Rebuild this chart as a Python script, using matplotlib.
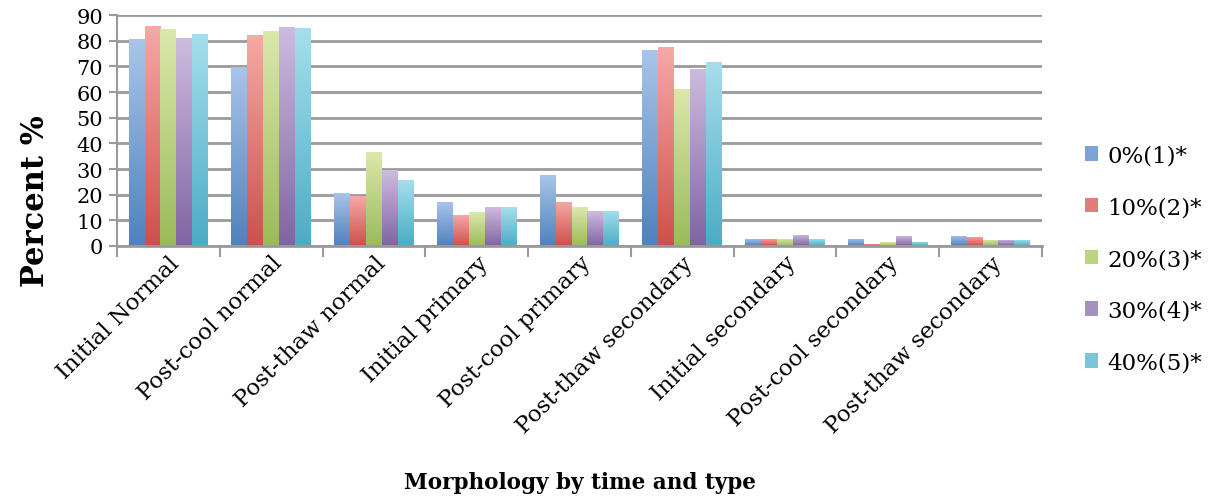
import matplotlib
matplotlib.use("Agg")
import matplotlib.pyplot as plt
import numpy as np
from matplotlib.colors import LinearSegmentedColormap
from matplotlib.patches import Patch

categories = ["Initial Normal", "Post-cool normal", "Post-thaw normal", "Initial primary",
              "Post-cool primary", "Post-thaw secondary", "Initial secondary",
              "Post-cool secondary", "Post-thaw secondary"]
series_names = ["0%(1)*", "10%(2)*", "20%(3)*", "30%(4)*", "40%(5)*"]
s0 = [80.6, 69.8, 20.8, 17.0, 27.8, 76.3, 2.8, 2.8, 4.0]
s10 = [85.6, 82.2, 19.4, 11.9, 17.3, 77.5, 2.8, 0.9, 3.6]
s20 = [84.4, 83.8, 36.5, 13.1, 15.0, 61.3, 2.8, 1.4, 2.4]
s30 = [81.0, 85.2, 29.5, 15.0, 13.5, 69.0, 4.4, 4.0, 2.4]
s40 = [82.6, 84.8, 25.9, 15.0, 13.8, 71.9, 2.8, 1.7, 2.4]
series = [s0, s10, s20, s30, s40]
yticks = [0, 10, 20, 30, 40, 50, 60, 70, 80, 90]

tops = ["#a9c5e9", "#f6a9a6", "#dbe8ab", "#cdbcdf", "#a6dfec"]
bottoms = ["#4f81bd", "#cd504c", "#9bbb59", "#8064a2", "#4bacc6"]
mids = ["#7ca3d3", "#e07c79", "#bcd382", "#a690c2", "#79c6da"]

serif = ["DejaVu Serif"]
fig = plt.figure(figsize=(12.09, 5.02), dpi=100)
ax = fig.add_axes([0.0968, 0.508, 0.765, 0.46])

n = len(series)
bw = 0.155
x = np.arange(len(categories))
for i, (vals, t, b) in enumerate(zip(series, tops, bottoms)):
    cmap = LinearSegmentedColormap.from_list("g%d" % i, [b, t])
    offs = (i - (n - 1) / 2) * bw
    bars = ax.bar(x + offs, vals, bw, color=b, linewidth=0, zorder=2)
    for rect, v in zip(bars, vals):
        rect.set_facecolor("none")
        x0 = rect.get_x()
        grad = np.linspace(0, 1, 256).reshape(-1, 1)
        im = ax.imshow(grad, cmap=cmap, origin="lower", aspect="auto",
                       extent=[x0, x0 + bw, 0, v], zorder=2, vmin=0, vmax=1)
        im.set_clip_path(rect)

ax.set_xlim(-0.5, len(categories) - 0.5)
ax.set_ylim(0, 90)
ax.set_yticks(yticks)
ax.set_yticklabels([str(v) for v in yticks], family=serif, fontsize=15)
ax.yaxis.grid(True, color="#9a9a9a", linewidth=2, zorder=0)
ax.set_axisbelow(True)
for s in ["top", "right"]:
    ax.spines[s].set_visible(False)
ax.spines["left"].set_color("#9a9a9a")
ax.spines["left"].set_linewidth(1.5)
ax.spines["bottom"].set_color("#9a9a9a")
ax.spines["bottom"].set_linewidth(2)
ax.tick_params(axis="y", length=6, width=1.5, color="#9a9a9a", pad=4)

ax.set_xticks(np.arange(len(categories) + 1) - 0.5, minor=False)
ax.set_xticklabels([])
ax.tick_params(axis="x", which="major", length=8, width=1.5, color="#9a9a9a")
ax.set_xticks(x, minor=True)
ax.set_xticklabels(categories, minor=True, rotation=45, ha="right", va="top",
                   rotation_mode="anchor", family=serif, fontsize=16.5)
ax.tick_params(axis="x", which="minor", length=0, pad=4)

fig.text(0.029, 0.60, "Percent %", family=serif, fontsize=22, fontweight="bold",
         rotation=90, ha="center", va="center")
fig.text(0.48, 0.038, "Morphology by time and type", family=serif, fontsize=15.5,
         fontweight="bold", ha="center", va="center")

handles = [Patch(facecolor=c, edgecolor="none") for c in mids]
leg = fig.legend(handles, series_names, loc="center left", bbox_to_anchor=(0.88, 0.482),
                 frameon=False, prop={"family": serif, "size": 16.5},
                 handlelength=0.6, handleheight=0.6, labelspacing=1.3, handletextpad=0.4)

fig.savefig("out.png", dpi=100)
